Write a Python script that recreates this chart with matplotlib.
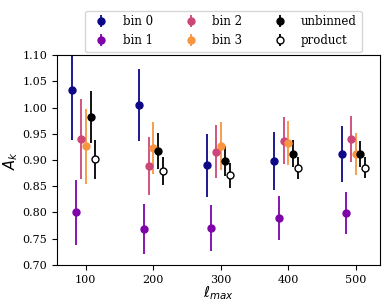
import numpy as np
import matplotlib
matplotlib.use('Agg')
import matplotlib.pyplot as plt

plt.rcParams['font.family'] = 'DejaVu Serif'
plt.rcParams['mathtext.fontset'] = 'dejavusans'

lmax = np.array([100, 200, 300, 400, 500])

labels  = ['bin 0', 'bin 1', 'bin 2', 'bin 3', 'unbinned', 'product']
offsets = [-21, -14, -7, 0, 7, 14]

bin0     = [1.033, 1.005, 0.890, 0.898, 0.911]
bin0_err = [0.094, 0.069, 0.060, 0.056, 0.053]
bin1     = [0.800, 0.769, 0.771, 0.790, 0.799]
bin1_err = [0.062, 0.048, 0.044, 0.042, 0.040]
bin2     = [0.940, 0.889, 0.916, 0.937, 0.940]
bin2_err = [0.076, 0.055, 0.050, 0.045, 0.043]
bin3     = [0.926, 0.923, 0.927, 0.932, 0.911]
bin3_err = [0.071, 0.050, 0.046, 0.042, 0.040]
unb      = [0.982, 0.917, 0.898, 0.912, 0.911]
unb_err  = [0.050, 0.034, 0.029, 0.026, 0.025]
prod     = [0.901, 0.879, 0.871, 0.885, 0.885]
prod_err = [0.037, 0.027, 0.024, 0.021, 0.020]

vals = [bin0, bin1, bin2, bin3, unb, prod]
errs = [bin0_err, bin1_err, bin2_err, bin3_err, unb_err, prod_err]
cmap = plt.cm.plasma
colours = [cmap(0.0), cmap(0.25), cmap(0.5), cmap(0.75), 'k', 'k']

fig = plt.figure(figsize=(3.9, 3.08), dpi=100)
ax = fig.add_axes([0.146, 0.14, 0.828, 0.681])

for i in range(6):
    mfc = 'white' if labels[i] == 'product' else colours[i]
    ax.errorbar(lmax + offsets[i], vals[i], yerr=errs[i], fmt='o', color=colours[i],
                mfc=mfc, ms=5, elinewidth=1.3, label=labels[i])

ax.set_ylim(0.70, 1.10)
ax.set_yticks(np.arange(0.70, 1.101, 0.05))
ax.set_xticks(lmax)
ax.tick_params(labelsize=8)
ax.set_ylabel('$A_k$', fontsize=10.5, labelpad=2)
ax.set_xlabel('$\\ell_{max}$', fontsize=10.5, labelpad=0)
ax.legend(loc='upper center', bbox_to_anchor=(0.515, 1.24), ncol=3, fontsize=8.5,
          columnspacing=2.2)

plt.savefig('out.png', dpi=100)
